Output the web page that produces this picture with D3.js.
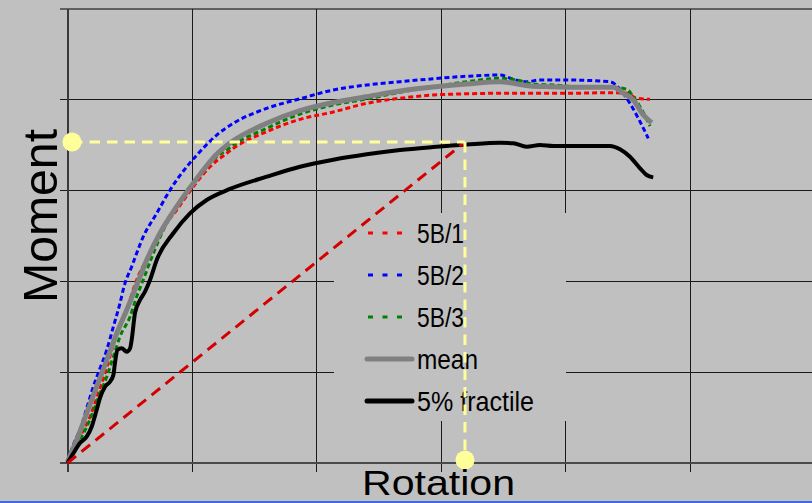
<!DOCTYPE html>
<html>
<head>
<meta charset="utf-8">
<script src="https://cdn.jsdelivr.net/npm/d3@7/dist/d3.min.js"></script>
<style>
  html, body { margin: 0; padding: 0; background: #c0c0c0; }
  svg { display: block; }
  text { font-family: "Liberation Sans", Arial, sans-serif; fill: #000; }
</style>
</head>
<body>
<svg id="chart" width="812" height="503"></svg>
<script>
// ---- data (rotation, moment) in arbitrary grid units ----
const xTicks = [0, 10, 20, 30, 40, 50, 60];
const yTicks = [0, 10, 20, 30, 40, 50];

const series5B1 = [[0,0.11],[0.2,0.69],[1.0,2.9],[1.81,5.1],[2.47,7.68],[3.01,9.88],[3.55,12.44],[4.05,14.65],[4.75,16.85],[5.55,20.15],[6.62,23.09],[7.56,25.66],[8.76,27.86],[10.1,30.43],[11.44,32.63],[12.78,34.11],[13.31,34.66],[15.99,36.49],[18.66,37.85],[21.33,38.66],[24.01,39.61],[26.69,40.17],[29.36,40.53],[32.04,40.66],[34.71,40.72],[40.06,40.72],[43.8,40.78],[44.88,40.72],[45.68,40.17],[46.75,40.06]];
const series5B2 = [[0.04,0.33],[0.47,1.98],[1.14,4.19],[1.54,6.02],[2.07,8.4],[2.61,10.43],[3.15,12.44],[3.68,15.01],[4.21,17.59],[4.55,19.5],[5.15,21.62],[6.08,24.92],[7.16,27.5],[8.23,30.07],[9.57,32.63],[10.75,34.47],[11.97,36.12],[13.31,37.41],[15.99,39.06],[18.66,40.11],[21.33,41.08],[24.01,41.63],[26.69,41.99],[29.36,42.32],[32.04,42.59],[34.71,42.73],[35.78,42.26],[36.85,41.99],[37.92,42.18],[40.06,42.18],[43.54,41.99],[44.34,41.16],[45.14,39.61],[45.95,37.59],[46.61,35.76]];
const series5B3 = [[0.06,0.33],[1.0,2.53],[1.67,4.37],[2.21,6.2],[2.61,7.68],[3.15,9.5],[3.68,11.71],[4.21,13.91],[5.02,16.11],[5.55,18.32],[6.0,19.9],[6.89,23.09],[7.69,25.66],[8.76,28.23],[9.83,30.43],[11.17,32.63],[11.97,33.73],[12.78,34.47],[13.31,35.02],[15.99,36.86],[18.66,38.44],[21.33,39.43],[24.01,40.09],[26.69,40.83],[29.36,41.44],[32.04,41.99],[34.71,42.37],[36.05,42.18],[37.38,41.74],[38.99,41.63],[41.4,41.38],[43.8,41.38],[44.88,41.16],[45.41,40.34],[45.95,39.24],[46.75,37.11]];
const seriesMean = [[0,0.14],[0.74,2.53],[1.54,5.47],[2.34,8.4],[3.15,11.34],[3.95,14.28],[4.75,16.85],[5.45,19.25],[6.36,22.36],[7.42,25.3],[8.76,28.23],[10.1,30.8],[11.44,33.18],[11.97,34.0],[13.1,35.3],[15.99,37.41],[18.66,38.8],[21.33,39.7],[24.01,40.34],[26.69,40.97],[29.36,41.41],[32.04,41.74],[34.71,41.99],[35.78,41.82],[37.12,41.52],[38.72,41.44],[41.4,41.38],[43.8,41.38],[44.61,40.72],[45.41,39.98],[46.21,38.33],[46.89,37.48]];
const seriesFractile = [[0,0],[0.47,1.07],[1.0,2.2],[1.54,2.9],[1.94,4.0],[2.34,5.84],[2.61,7.16],[3.01,8.4],[3.41,8.95],[3.68,9.69],[3.81,11.01],[4.0,12.44],[4.35,12.63],[4.75,12.26],[5.02,12.63],[5.15,13.55],[5.42,16.52],[5.82,17.95],[6.22,18.87],[6.62,20.15],[7.16,22.36],[8.49,25.3],[9.83,27.5],[11.17,28.96],[13.04,30.18],[15.99,31.53],[18.66,32.63],[21.33,33.4],[24.01,34.0],[26.69,34.47],[29.36,34.8],[32.04,35.08],[34.71,35.28],[35.78,35.21],[36.85,34.83],[37.92,35.02],[38.99,34.91],[41.4,34.91],[43.54,34.91],[44.34,34.55],[45.14,33.73],[45.95,32.46],[46.48,31.72],[47.01,31.46]];

const secantLine = [[0,0],[31.9,35.35]];
const yieldPoint = [31.9, 35.35];
const yMarker = [0.36, 35.35];
const xMarker = [31.9, 0.33];

const legendLabels = ["5B/1", "5B/2", "5B/3", "mean", "5% fractile"];
const legendWidths = [47, 47, 47, 61, 117];

// ---- scales ----
const svg = d3.select("#chart");
const x = d3.scaleLinear().domain([0, 60]).range([67.5, 815.1]);
const y = d3.scaleLinear().domain([0, 50]).range([463, 9]);

// background
svg.append("rect").attr("width", 812).attr("height", 503).attr("fill", "#c0c0c0");

// gridlines
const grid = svg.append("g").attr("shape-rendering", "crispEdges");
grid.selectAll(".hg").data(yTicks).join("line")
  .attr("x1", 60).attr("x2", 812)
  .attr("y1", d => y(d)).attr("y2", d => y(d))
  .attr("stroke", d => d === 50 ? "#606060" : "#1a1a1a").attr("stroke-width", d => d === 50 ? 2 : 1);
grid.selectAll(".vg").data(xTicks.filter(d => d > 0)).join("line")
  .attr("x1", d => x(d)).attr("x2", d => x(d))
  .attr("y1", y(50)).attr("y2", 472)
  .attr("stroke", "#1a1a1a").attr("stroke-width", 1);
// axes
grid.append("line").attr("x1", x(0)).attr("x2", x(0)).attr("y1", y(50)).attr("y2", 472)
  .attr("stroke", "#3a3a3a").attr("stroke-width", 2);
grid.append("line").attr("x1", 60).attr("x2", 812).attr("y1", y(0)).attr("y2", y(0))
  .attr("stroke", "#4a4a4a").attr("stroke-width", 2);

// legend box (same fill as background, hides gridlines)
const lg = svg.append("g");
lg.append("rect").attr("x", 334).attr("y", 213).attr("width", 232).attr("height", 208).attr("fill", "#c0c0c0");

// curves
const line = d3.line().x(d => x(d[0])).y(d => y(d[1])).curve(d3.curveMonotoneX);
const curves = [
  {data: series5B1, color: "#ff0000", width: 3, dash: "5,3"},
  {data: series5B2, color: "#0000ff", width: 3, dash: "5,3"},
  {data: series5B3, color: "#008000", width: 3, dash: "5,3"},
  {data: seriesMean, color: "#808080", width: 5, dash: null},
  {data: seriesFractile, color: "#000000", width: 4, dash: null}
];
svg.append("g").selectAll("path").data(curves).join("path")
  .attr("d", d => line(d.data))
  .attr("fill", "none")
  .attr("stroke", d => d.color)
  .attr("stroke-width", d => d.width)
  .attr("stroke-dasharray", d => d.dash)
  .attr("stroke-linejoin", "round");

// legend entries
const ly0 = 233, ldy = 42;
legendLabels.forEach((lab, i) => {
  const c = curves[i];
  const yy = ly0 + i * ldy;
  lg.append("line").attr("x1", c.dash ? 368 : 367).attr("x2", c.dash ? 403 : 412).attr("y1", yy).attr("y2", yy)
    .attr("stroke", c.color).attr("stroke-width", c.dash ? 3 : 5)
    .attr("stroke-dasharray", c.dash ? "5,9.5" : null)
    .attr("stroke-linecap", c.dash ? "butt" : "round");
  lg.append("text").attr("x", 417).attr("y", yy + 10)
    .attr("font-size", 28)
    .attr("textLength", legendWidths[i]).attr("lengthAdjust", "spacingAndGlyphs")
    .text(lab);
});

// secant line
svg.append("path").attr("d", d3.line().x(d => x(d[0])).y(d => y(d[1]))(secantLine))
  .attr("stroke", "#d40000").attr("stroke-width", 3).attr("stroke-dasharray", "11,7").attr("fill", "none");

// yellow guide lines
svg.append("line").attr("x1", x(yMarker[0])).attr("x2", x(yieldPoint[0]))
  .attr("y1", y(yieldPoint[1])).attr("y2", y(yieldPoint[1]))
  .attr("stroke", "#ffff99").attr("stroke-width", 3).attr("stroke-dasharray", "10.5,7");
svg.append("line").attr("x1", x(yieldPoint[0])).attr("x2", x(yieldPoint[0]))
  .attr("y1", y(yieldPoint[1])).attr("y2", y(xMarker[1]))
  .attr("stroke", "#ffff99").attr("stroke-width", 3).attr("stroke-dasharray", "10.5,7");
svg.selectAll(".dot").data([yMarker, xMarker]).join("circle")
  .attr("cx", d => x(d[0])).attr("cy", d => y(d[1])).attr("r", 9.5).attr("fill", "#ffff99");

// axis titles
svg.append("text").attr("transform", "translate(57,216) rotate(-90)")
  .attr("text-anchor", "middle").attr("font-size", 48)
  .attr("textLength", 174).attr("lengthAdjust", "spacingAndGlyphs").text("Moment");
svg.append("text").attr("x", 362).attr("y", 495)
  .attr("font-size", 35)
  .attr("textLength", 153).attr("lengthAdjust", "spacingAndGlyphs").text("Rotation");

// bottom strip
svg.append("rect").attr("x", 0).attr("y", 501).attr("width", 812).attr("height", 2).attr("fill", "#4169e1");
</script>
</body>
</html>
